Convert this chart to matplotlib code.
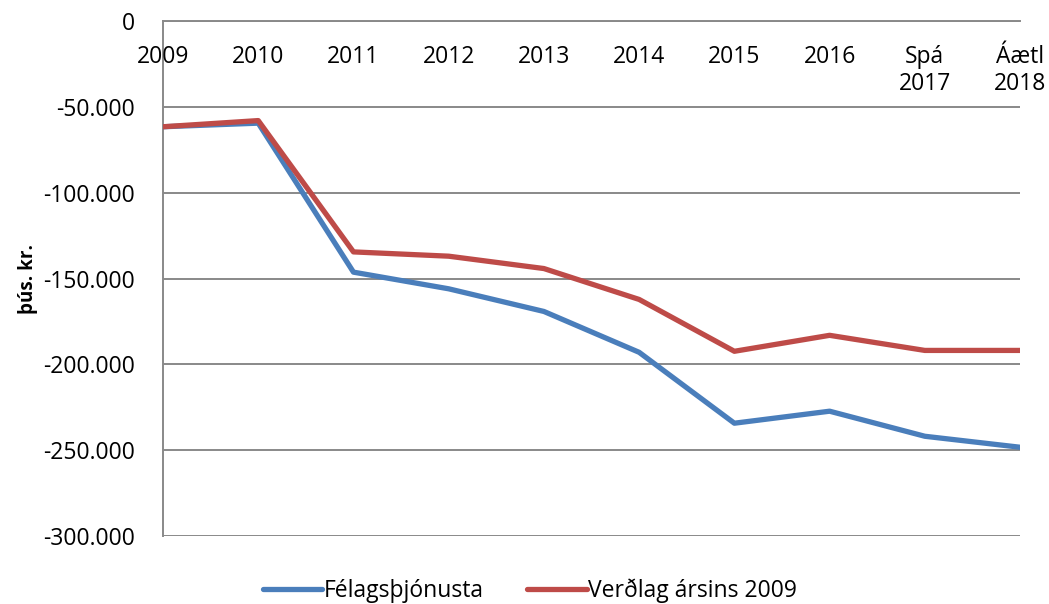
import matplotlib.pyplot as plt
from matplotlib.ticker import FuncFormatter
from matplotlib.transforms import blended_transform_factory

plt.rcParams['font.family'] = ['Open Sans', 'DejaVu Sans']

categories = ["2009", "2010", "2011", "2012", "2013", "2014", "2015", "2016",
              "Spá\n2017", "Áætl\n2018"]
felagsthjonusta = [-61600, -59500, -146300, -156000, -169200, -193000,
                   -234300, -227300, -241900, -248300]
verdlag_2009 = [-61600, -58000, -134500, -137000, -144200, -162200,
                -192400, -183100, -191900, -191900]
y_ticks = [0, -50000, -100000, -150000, -200000, -250000, -300000]

fig = plt.figure(figsize=(10.49, 6.04), dpi=100)
ax = fig.add_axes([0.1554, 0.1126, 0.817, 0.8526])

x = range(len(categories))
ax.plot(x, felagsthjonusta, color="#4A7EBB", lw=3.8, solid_capstyle="round",
        solid_joinstyle="round", label="Félagsþjónusta", zorder=3)
ax.plot(x, verdlag_2009, color="#BE4B48", lw=3.8, solid_capstyle="round",
        solid_joinstyle="round", label="Verðlag ársins 2009", zorder=3)

ax.set_xlim(0, len(categories) - 1)
ax.set_ylim(-300000, 0)
ax.set_yticks(y_ticks)
ax.yaxis.set_major_formatter(FuncFormatter(lambda v, p: f"{int(v):,}".replace(",", ".")))
ax.tick_params(axis="y", length=0, pad=20, labelsize=16.5)
ax.set_xticks([])
ax.grid(axis="y", color="#898989", lw=1.4)

for s in ["right", "bottom"]:
    ax.spines[s].set_visible(False)
for s in ["left", "top"]:
    ax.spines[s].set_color("#898989")
    ax.spines[s].set_linewidth(1.4)

trans = blended_transform_factory(ax.transData, ax.transAxes)
for i, lab in enumerate(categories):
    ax.text(i, 0.953, lab, transform=trans, ha="center", va="top",
            fontsize=16.5, linespacing=1.15)

ax.set_ylabel("þús. kr.", fontsize=13.5, fontweight="bold", labelpad=4)

fig.legend(loc="lower center", bbox_to_anchor=(0.505, -0.032), ncol=2,
           frameon=False, fontsize=16.5, handlelength=2.6, handletextpad=0.05,
           columnspacing=1.9)

fig.savefig("out.png", dpi=100)
